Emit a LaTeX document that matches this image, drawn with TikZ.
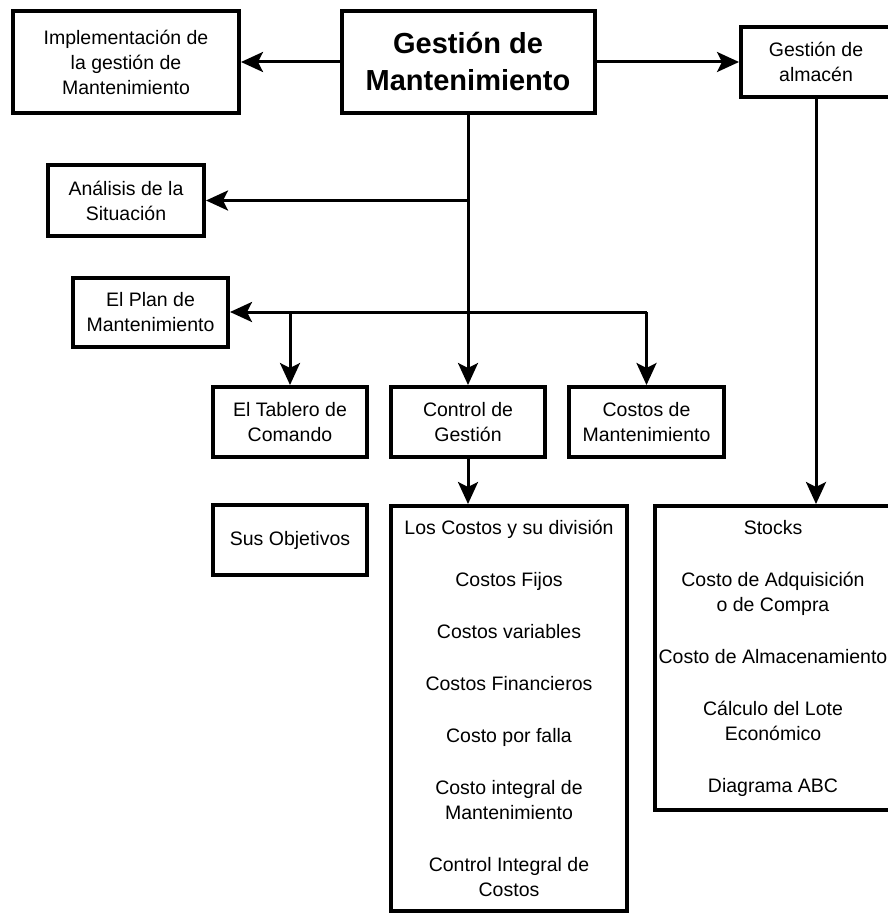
\documentclass[tikz,border=0pt]{standalone}
\usepackage{fontspec}
\setmainfont{Liberation Sans}
\usetikzlibrary{arrows.meta}

\tikzset{
    box/.style={draw, line width=4pt, inner sep=0pt, align=center,
        font=\fontsize{19.5}{25}\selectfont},
    mainbox/.style={box, font=\fontsize{29}{37}\selectfont\bfseries},
    listbox/.style={box, anchor=center},
    arr/.style={line width=3pt, -{Stealth[length=22pt,width=20pt,inset=5pt]}}
}

\begin{document}
\begin{tikzpicture}[x=1pt,y=-1pt]
    \useasboundingbox (0,0) rectangle (888,915);
    \clip (0,0) rectangle (888,915);
    % Top row
    \node[mainbox, minimum width=253pt, minimum height=102pt] (main) at (468,62) {Gestión de\\Mantenimiento};
    \node[box, minimum width=226pt, minimum height=102pt] (impl) at (126,62) {Implementación de\\la gestión de\\Mantenimiento};
    \node[box, minimum width=150pt, minimum height=70pt] (almacen) at (816,62) {Gestión de\\almacén};
    % Left column
    \node[box, minimum width=156pt, minimum height=71pt] (analisis) at (126,200.5) {Análisis de la\\Situación};
    \node[box, minimum width=155pt, minimum height=69pt] (plan) at (150.5,312) {El Plan de\\Mantenimiento};
    % Middle row
    \node[box, minimum width=154pt, minimum height=70pt] (tablero) at (290,422) {El Tablero de\\Comando};
    \node[box, minimum width=154pt, minimum height=70pt] (ctrl) at (468,422) {Control de\\Gestión};
    \node[box, minimum width=155pt, minimum height=70pt] (cmant) at (646.5,422) {Costos de\\Mantenimiento};
    % Bottom row
    \node[box, minimum width=154pt, minimum height=70pt] (objetivos) at (290,540) {Sus Objetivos};
    \node[listbox, minimum width=236pt, minimum height=405pt] (costos) at (509,708.5) {%
        Los Costos y su división\\[27pt]
        Costos Fijos\\[27pt]
        Costos variables\\[27pt]
        Costos Financieros\\[27pt]
        Costo por falla\\[27pt]
        Costo integral de\\Mantenimiento\\[27pt]
        Control Integral de\\Costos};
    \node[listbox, minimum width=236pt, minimum height=304pt] (stocks) at (773,658) {%
        Stocks\\[27pt]
        Costo de Adquisición\\o de Compra\\[27pt]
        Costo de Almacenamiento\\[27pt]
        Cálculo del Lote\\Económico\\[27pt]
        Diagrama ABC};
    % Connectors
    \draw[arr] (main) -- (impl);
    \draw[arr] (main) -- (almacen);
    \draw[arr] (main) -- (ctrl);
    \draw[arr] (analisis -| main) -- (analisis);
    \draw[arr] (plan -| cmant) -- (plan);
    \draw[arr] (plan -| cmant) -- (cmant);
    \draw[arr] (plan -| tablero) -- (tablero);
    \draw[arr] (ctrl.south) -- (ctrl.south |- costos.north);
    \draw[arr] (almacen.south) -- (almacen.south |- stocks.north);
\end{tikzpicture}
\end{document}
